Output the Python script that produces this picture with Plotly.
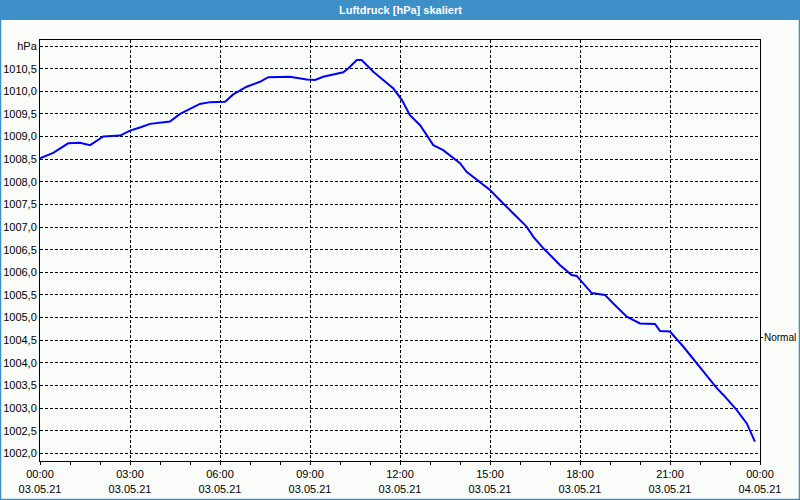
import plotly.graph_objects as go

# Data: hours since 03.05.21 00:00, pressure in hPa
hours = [0, 0.44, 0.94, 1.33, 1.67, 2.11, 2.67, 3.0, 3.33, 3.67, 4.33, 4.67, 5.33, 5.67,
         6.17, 6.44, 6.89, 7.33, 7.61, 8.33, 8.89, 9.17, 9.44, 10.11, 10.28, 10.56, 10.72,
         11.11, 11.44, 11.78, 12.06, 12.33, 12.67, 13.11, 13.44, 14.0, 14.22, 14.67, 15.0,
         15.44, 15.89, 16.22, 16.44, 16.78, 17.11, 17.33, 17.72, 17.89, 18.39, 18.83, 19.11,
         19.56, 20.0, 20.5, 20.67, 21.0, 21.44, 22.0, 22.56, 22.78, 23.22, 23.56, 23.83]
pressure = [1008.52, 1008.64, 1008.85, 1008.86, 1008.81, 1009.00, 1009.02, 1009.13, 1009.20,
            1009.28, 1009.33, 1009.50, 1009.72, 1009.76, 1009.77, 1009.93, 1010.10, 1010.21,
            1010.31, 1010.32, 1010.26, 1010.25, 1010.32, 1010.42, 1010.51, 1010.69, 1010.69,
            1010.43, 1010.25, 1010.06, 1009.81, 1009.47, 1009.25, 1008.81, 1008.70, 1008.41,
            1008.22, 1008.00, 1007.82, 1007.52, 1007.23, 1007.01, 1006.79, 1006.53, 1006.31,
            1006.16, 1005.94, 1005.92, 1005.54, 1005.50, 1005.31, 1005.02, 1004.87, 1004.86,
            1004.70, 1004.69, 1004.36, 1003.91, 1003.44, 1003.29, 1002.96, 1002.66, 1002.26]

x_tick_vals = [0, 3, 6, 9, 12, 15, 18, 21, 24]
x_tick_text = ["00:00<br>03.05.21", "03:00<br>03.05.21", "06:00<br>03.05.21",
               "09:00<br>03.05.21", "12:00<br>03.05.21", "15:00<br>03.05.21",
               "18:00<br>03.05.21", "21:00<br>03.05.21", "00:00<br>04.05.21"]
y_tick_vals = [1002.0, 1002.5, 1003.0, 1003.5, 1004.0, 1004.5, 1005.0, 1005.5, 1006.0,
               1006.5, 1007.0, 1007.5, 1008.0, 1008.5, 1009.0, 1009.5, 1010.0, 1010.5, 1011.0]
y_tick_text = ["1002,0", "1002,5", "1003,0", "1003,5", "1004,0", "1004,5", "1005,0",
               "1005,5", "1006,0", "1006,5", "1007,0", "1007,5", "1008,0", "1008,5",
               "1009,0", "1009,5", "1010,0", "1010,5", "hPa"]
normal_value = 1004.56
normal_label = "Normal"
title_text = "Luftdruck [hPa] skaliert"

y_range = [1001.83, 1011.133]
font = dict(family="Liberation Sans, Arial, sans-serif", size=11, color="#000000")
grid_dash = "3px,2px"

fig = go.Figure()
fig.add_trace(go.Scatter(x=hours, y=pressure, mode="lines",
                         line=dict(color="#0000ff", width=2), showlegend=False,
                         hoverinfo="skip"))
fig.add_trace(go.Scatter(x=[0], y=[normal_value], mode="markers", yaxis="y2",
                         marker=dict(opacity=0), showlegend=False, hoverinfo="skip"))

fig.update_layout(
    width=800, height=500,
    margin=dict(l=40, r=40, t=40, b=39, pad=0, autoexpand=False),
    paper_bgcolor="#fafcfa", plot_bgcolor="#fafcfa",
    font=font,
    xaxis=dict(range=[0, 24], tickvals=x_tick_vals, ticktext=x_tick_text,
               ticks="outside", ticklen=3, tickcolor="#000", tickwidth=1,
               minor=dict(dtick=1, tick0=0, ticks="outside", ticklen=3, tickcolor="#000",
                          showgrid=False),
               showgrid=True, gridcolor="#000000", gridwidth=1, griddash=grid_dash,
               showline=True, linecolor="#000", linewidth=1, mirror=True,
               zeroline=False, fixedrange=True, automargin=False),
    yaxis=dict(range=y_range, tickvals=y_tick_vals, ticktext=y_tick_text,
               ticks="", showgrid=True, gridcolor="#000000", gridwidth=1,
               griddash=grid_dash, showline=True, linecolor="#000", linewidth=1,
               mirror=True, zeroline=False, fixedrange=True, automargin=False),
    yaxis2=dict(range=y_range, overlaying="y", side="right", tickvals=[normal_value],
                ticktext=[normal_label], ticks="outside", ticklen=2, tickcolor="#000",
                tickfont=dict(family="Liberation Sans, Arial, sans-serif", size=10,
                              color="#000000"),
                ticklabelstandoff=-1,
                showgrid=False, showline=False, zeroline=False, fixedrange=True,
                automargin=False),
    shapes=[
        dict(type="rect", xref="paper", yref="paper", x0=-0.0556, x1=1.0556,
             y0=1 + 20 / 421, y1=1 + 40 / 421, fillcolor="#3d8fc7", line=dict(width=0),
             layer="below"),
        dict(type="line", xref="paper", yref="paper", x0=-40 / 720 + 0.0007, x1=-40 / 720 + 0.0007,
             y0=-39 / 421, y1=1 + 40 / 421, line=dict(color="#3d8fc7", width=1.5)),
        dict(type="line", xref="paper", yref="paper", x0=1 + 40 / 720 - 0.0007, x1=1 + 40 / 720 - 0.0007,
             y0=-39 / 421, y1=1 + 40 / 421, line=dict(color="#3d8fc7", width=1.5)),
        dict(type="line", xref="paper", yref="paper", x0=-40 / 720, x1=1 + 40 / 720,
             y0=-38.5 / 421, y1=-38.5 / 421, line=dict(color="#3d8fc7", width=1.5)),
    ],
    annotations=[
        dict(text="<b>" + title_text + "</b>", xref="paper", yref="paper", x=0.5,
             y=1 + 30 / 421, xanchor="center", yanchor="middle", showarrow=False,
             font=dict(family="Liberation Sans, Arial, sans-serif", size=11, color="#ffffff")),
    ],
)

fig.write_html("out.html")
